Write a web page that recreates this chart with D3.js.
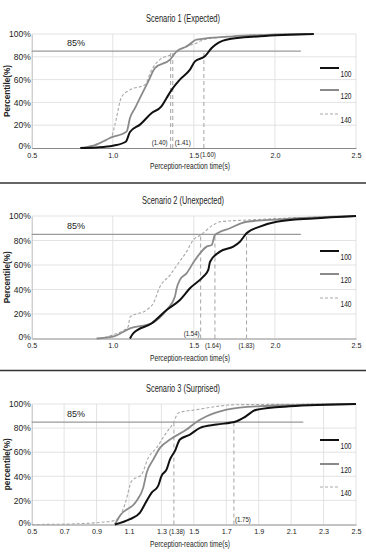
<!DOCTYPE html>
<html>
<head>
<meta charset="utf-8">
<script src="https://cdn.jsdelivr.net/npm/d3@7"></script>
<style>
  body { margin: 0; background: #fff; }
  svg text { font-family: "Liberation Sans Narrow", "Arial Narrow", "Liberation Sans", sans-serif; fill: #222; }
</style>
</head>
<body>
<div id="chart-area"></div>
<script>
// Series: [reaction time (s), percentile (%)]
const s1_100 = [[0.80,0],[0.90,0.5],[1.00,2],[1.08,5.5],[1.106,14],[1.168,20.5],[1.24,30.7],[1.30,36.5],[1.332,43.9],[1.363,51],[1.414,60],[1.476,68.7],[1.507,76],[1.568,80.4],[1.61,87.7],[1.70,95],[1.91,98],[2.24,100]];
const s1_120 = [[0.80,0],[0.90,3],[0.983,8.8],[1.086,14.6],[1.106,26.3],[1.137,35],[1.178,46.8],[1.219,58.5],[1.26,70],[1.353,77.5],[1.394,84.8],[1.456,89],[1.517,95],[1.74,98],[2.20,100]];
const s1_140 = [[0.80,0],[0.90,3.5],[0.993,10.3],[1.013,20.4],[1.055,45],[1.106,51],[1.198,55.5],[1.24,68.7],[1.29,77.5],[1.383,83],[1.445,89],[1.517,92],[1.56,95],[1.75,98],[2.10,100]];

const s2_100 = [[1.106,0],[1.126,4.2],[1.24,12.4],[1.332,23.3],[1.414,31.4],[1.476,41],[1.558,50.5],[1.589,56],[1.60,62.7],[1.661,70.9],[1.743,75],[1.784,79],[1.825,85.9],[1.907,91.3],[2.01,95.3],[2.236,98],[2.50,100]];
const s2_120 = [[0.90,0],[1.00,1.5],[1.106,8.3],[1.24,12.4],[1.332,23.3],[1.383,34],[1.394,41],[1.414,47.8],[1.455,53.2],[1.507,64],[1.579,75],[1.61,76.3],[1.63,84.5],[1.723,90],[1.825,95.3],[2.03,97.3],[2.50,100]];
const s2_140 = [[0.92,0],[1.00,2.9],[1.095,9.6],[1.106,17.5],[1.209,23.3],[1.25,28.7],[1.291,42.3],[1.353,51.8],[1.404,61.4],[1.455,70.9],[1.496,80.4],[1.542,84.5],[1.62,92.7],[1.661,95.3],[1.825,96.7],[2.03,98],[2.50,100]];

const s3_100 = [[1.013,0],[1.106,4.4],[1.168,9.9],[1.209,19.6],[1.24,26.4],[1.28,32],[1.30,40.2],[1.332,45.7],[1.353,54],[1.383,60.9],[1.414,70.5],[1.476,74.6],[1.538,80.2],[1.64,82.9],[1.764,85.7],[1.805,88.4],[1.887,95.3],[2.09,98.1],[2.50,100]];
const s3_120 = [[1.013,0],[1.044,7.2],[1.147,19.6],[1.188,30.6],[1.209,43],[1.25,54],[1.291,63.6],[1.353,70.5],[1.455,78.8],[1.507,84.3],[1.579,89.8],[1.702,95.3],[1.887,98.1],[2.50,100]];
const s3_140 = [[0.50,0],[0.70,0.3],[0.90,1.5],[1.00,3],[1.034,5.2],[1.075,16.8],[1.117,36.1],[1.178,41.6],[1.219,55.4],[1.27,63.6],[1.322,74.6],[1.373,84.3],[1.404,92.6],[1.517,95.3],[1.764,99.4],[2.50,100]];

const titles = ["Scenario 1 (Expected)", "Scenario 2 (Unexpected)", "Scenario 3 (Surprised)"];
const yLabels = ["Percentile(%)", "Percentile(%)", "percentile(%)"];
const speeds = ["100", "120", "140"];
const xTicks12 = [0.5, 1.0, 1.5, 2.0, 2.5];
const xTicks3 = [0.5, 0.7, 0.9, 1.1, 1.3, 1.5, 1.7, 1.9, 2.1, 2.3, 2.5];
const yTicks = [0, 20, 40, 60, 80, 100];
const refLevel = 85;
const refLineEnd = [2.16, 2.16, 2.175];
// 85th percentile markers: position on the axis and printed label
const markerPos = [[1.357, 1.37, 1.562], [1.542, 1.63, 1.825], [1.377, 1.747]];
const markerText = [["(1.40)", "(1.41)", "(1.60)"], ["(1.54)", "(1.64)", "(1.83)"], ["(1.38)", "(1.75)"]];

const W = 366, H = 554;
const svg = d3.select("#chart-area").append("svg")
  .attr("width", W).attr("height", H);

// layout of each panel
const panels = [
  { series: [s1_100, s1_120, s1_140], ticks: xTicks12, top: 34, bottom: 148, titleY: 22, xLabY: 169, legY: [68, 90, 114],
    mLab: [{dx: -11, side: "above"}, {dx: 10, side: "above"}, {dx: 4, side: "below"}] },
  { series: [s2_100, s2_120, s2_140], ticks: xTicks12, top: 216, bottom: 338.5, titleY: 204, xLabY: 361, legY: [251, 274, 298],
    mLab: [{dx: -9, side: "above"}, {dx: -2, side: "below"}, {dx: 0, side: "below"}] },
  { series: [s3_100, s3_120, s3_140], ticks: xTicks3, top: 404, bottom: 524.5, titleY: 392, xLabY: 547, legY: [440, 464, 487],
    mLab: [{dx: 3, side: "below"}, {dx: 9, side: "above"}] }
];

const styles = [
  { stroke: "#111", width: 2, dash: null },
  { stroke: "#8a8a8a", width: 1.8, dash: null },
  { stroke: "#a8a8a8", width: 1.1, dash: "3,2" }
];

const x = d3.scaleLinear().domain([0.5, 2.5]).range([31.7, 356]);

panels.forEach((p, i) => {
  const y = d3.scaleLinear().domain([0, 100]).range([p.bottom, p.top]);
  const g = svg.append("g");

  // gridlines
  g.selectAll(".vg").data(p.ticks.slice(1)).enter().append("line")
    .attr("x1", d => x(d)).attr("x2", d => x(d))
    .attr("y1", y(0)).attr("y2", y(100))
    .attr("stroke", "#dcdcdc").attr("stroke-width", 0.8);
  g.selectAll(".hg").data(yTicks.slice(1)).enter().append("line")
    .attr("x1", x(0.5)).attr("x2", x(2.5))
    .attr("y1", d => y(d)).attr("y2", d => y(d))
    .attr("stroke", "#dcdcdc").attr("stroke-width", 0.8);

  // axes
  const xAxis = g.append("g").attr("transform", `translate(0, ${y(0)})`)
    .call(d3.axisBottom(x).tickValues(p.ticks).tickFormat(d3.format(".1f")).tickSize(0).tickPadding(4));
  xAxis.select(".domain").attr("stroke", "#888");
  xAxis.selectAll("text").attr("font-size", 8).attr("fill", "#222").attr("font-family", null)
    .attr("textLength", 10).attr("lengthAdjust", "spacingAndGlyphs");

  const yAxis = g.append("g").attr("transform", `translate(${x(0.5)}, 0)`)
    .call(d3.axisLeft(y).tickValues(yTicks).tickFormat(d => d + "%").tickSize(0).tickPadding(1));
  yAxis.select(".domain").attr("stroke", "#bbb");
  yAxis.selectAll("text").attr("font-size", 8.5).attr("fill", "#222").attr("font-family", null);
  yAxis.selectAll(".tick").filter(d => d === 0).select("text").attr("dy", "0.1em");

  // 85% reference line
  g.append("line")
    .attr("x1", x(0.5)).attr("x2", x(refLineEnd[i]))
    .attr("y1", y(refLevel)).attr("y2", y(refLevel))
    .attr("stroke", "#9a9a9a").attr("stroke-width", 1.4);
  g.append("text").attr("x", 76).attr("y", y(refLevel) - 5)
    .attr("text-anchor", "middle").attr("font-size", 9).text(refLevel + "%");

  // marker dashed lines
  markerPos[i].forEach((m, k) => {
    g.append("line")
      .attr("x1", x(m)).attr("x2", x(m))
      .attr("y1", y(0)).attr("y2", y(refLevel))
      .attr("stroke", "#9a9a9a").attr("stroke-width", 0.9).attr("stroke-dasharray", "4,3");
    const lab = p.mLab[k];
    g.append("text")
      .attr("x", x(m) + lab.dx)
      .attr("y", lab.side === "above" ? y(0) - 3 : y(0) + 9)
      .attr("text-anchor", "middle").attr("font-size", 8)
      .attr("textLength", 16).attr("lengthAdjust", "spacingAndGlyphs")
      .text(markerText[i][k]);
  });

  // curves
  const line = d3.line().x(d => x(d[0])).y(d => y(d[1])).curve(d3.curveMonotoneX);
  [2, 1, 0].forEach(s => {
    g.append("path")
      .datum(p.series[s])
      .attr("d", line)
      .attr("fill", "none")
      .attr("stroke", styles[s].stroke)
      .attr("stroke-width", styles[s].width)
      .attr("stroke-dasharray", styles[s].dash);
  });

  // legend
  speeds.forEach((sp, s) => {
    g.append("line")
      .attr("x1", 320).attr("x2", 339)
      .attr("y1", p.legY[s]).attr("y2", p.legY[s])
      .attr("stroke", styles[s].stroke)
      .attr("stroke-width", s === 2 ? 1 : 2)
      .attr("stroke-dasharray", styles[s].dash);
    g.append("text").attr("x", 340.5).attr("y", p.legY[s] + 9)
      .attr("font-size", 8.5).attr("textLength", 11).attr("lengthAdjust", "spacingAndGlyphs").text(sp);
  });

  // titles
  g.append("text").attr("x", 183).attr("y", p.titleY)
    .attr("text-anchor", "middle").attr("font-size", 10.5)
    .attr("textLength", i === 1 ? 82 : 74).attr("lengthAdjust", "spacingAndGlyphs")
    .text(titles[i]);
  g.append("text").attr("x", 190).attr("y", p.xLabY)
    .attr("text-anchor", "middle").attr("font-size", 9)
    .attr("textLength", 80).attr("lengthAdjust", "spacingAndGlyphs")
    .text("Perception-reaction time(s)");
  g.append("text")
    .attr("transform", `translate(10, ${(p.top + p.bottom) / 2}) rotate(-90)`)
    .attr("text-anchor", "middle").attr("font-size", 8.5).attr("font-weight", "bold")
    .attr("textLength", 52).attr("lengthAdjust", "spacingAndGlyphs")
    .text(yLabels[i]);
});

// panel separators
[183, 370.5].forEach(yy => {
  svg.append("line").attr("x1", 0).attr("x2", W)
    .attr("y1", yy).attr("y2", yy)
    .attr("stroke", "#333").attr("stroke-width", 1.6);
});
</script>
</body>
</html>
